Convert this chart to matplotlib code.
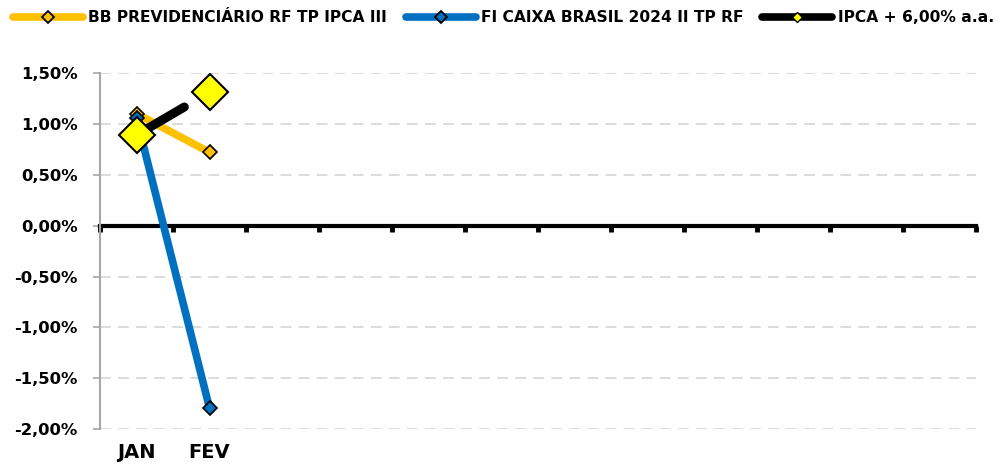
import matplotlib
matplotlib.use("Agg")
import matplotlib.pyplot as plt
from matplotlib.lines import Line2D
from matplotlib.ticker import FuncFormatter, FixedLocator
import matplotlib.transforms as mtrans

plt.rcParams['font.family'] = ['DejaVu Sans']
plt.rcParams['font.weight'] = 'bold'

months = ["JAN", "FEV", "", "", "", "", "", "", "", "", "", ""]
bb_prev = [1.10, 0.72]
caixa_2024 = [1.056, -1.79]
ipca_meta = [0.89, 1.31]

series_names = ["BB PREVIDENCIÁRIO RF TP IPCA III",
                "FI CAIXA BRASIL 2024 II TP RF",
                "IPCA + 6,00% a.a."]

c_orange = "#FFC000"
c_blue = "#0070C0"
c_black = "#000000"
c_yellow = "#FFFF00"

fig = plt.figure(figsize=(9.99, 4.73), dpi=100)
ax = fig.add_axes([100/999, 43.7/473, 876/999, 356.4/473])

n = len(months)
x = list(range(n))
ax.set_xlim(-0.5, n - 0.5)
ax.set_ylim(-2.0, 1.5)

# grid
ax.set_yticks([-2.0, -1.5, -1.0, -0.5, 0.0, 0.5, 1.0, 1.5])
ax.yaxis.grid(True, color="#D9D9D9", lw=1.3, ls=(0, (6, 4)))
ax.set_axisbelow(True)
ax.yaxis.set_major_formatter(FuncFormatter(lambda v, p: f"{v:.2f}%".replace(".", ",")))
ax.tick_params(axis='y', direction='out', length=5, width=1.2, color="#A6A6A6",
               labelsize=11.8, pad=11)
for lab in ax.get_yticklabels():
    lab.set_fontweight('bold')

for s in ['top', 'right']:
    ax.spines[s].set_visible(False)
ax.spines['left'].set_color("#A6A6A6")
ax.spines['left'].set_linewidth(1.5)
ax.spines['bottom'].set_position(('data', 0))
ax.spines['bottom'].set_color("black")
ax.spines['bottom'].set_linewidth(3)
ax.spines['bottom'].set_zorder(1)

ax.xaxis.set_major_locator(FixedLocator([i - 0.5 for i in range(n + 1)]))
ax.set_xticklabels([""] * (n + 1))
ax.tick_params(axis='x', direction='out', length=4, width=3.5, color="black")

trans = mtrans.blended_transform_factory(ax.transData, ax.transAxes)
for i, m in enumerate(months):
    if m:
        ax.text(i, -0.064, m, transform=trans, ha='center', va='center',
                fontsize=14, fontweight='bold')

# series
ax.plot(x[:len(bb_prev)], bb_prev, color=c_orange, lw=5.5, marker='D', ms=7,
        mfc=c_orange, mec='black', mew=1.2, zorder=3, solid_capstyle='butt')
ax.plot(x[:len(caixa_2024)], caixa_2024, color=c_blue, lw=5.5, marker='D', ms=7,
        mfc=c_blue, mec='black', mew=1.2, zorder=4, solid_capstyle='butt')
ax.annotate("", xy=(x[1], ipca_meta[1]), xytext=(x[0], ipca_meta[0]),
            arrowprops=dict(arrowstyle='-', lw=6.5, color=c_black, shrinkA=0,
                            shrinkB=21, capstyle='round'), zorder=5)
ax.plot(x[:len(ipca_meta)], ipca_meta, ls='none', marker='D', ms=18,
        mfc=c_yellow, mec='black', mew=1.5, zorder=6)

handles = [
    Line2D([], [], color=c_orange, lw=5.5, marker='D', ms=6, mfc=c_orange, mec='black', mew=1.3,
           solid_capstyle='round'),
    Line2D([], [], color=c_blue, lw=5.5, marker='D', ms=6, mfc=c_blue, mec='black', mew=1.3,
           solid_capstyle='round'),
    Line2D([], [], color=c_black, lw=5.5, marker='D', ms=5, mfc=c_yellow, mec='black', mew=1.0,
           solid_capstyle='round'),
]
leg = fig.legend(handles, series_names, loc='center', bbox_to_anchor=(0.504, 0.962),
                 ncol=3, frameon=False, handlelength=4.5,
                 handletextpad=0.35, columnspacing=1.2, prop={'weight': 'bold', 'size': 11.2})

fig.savefig("out.png", dpi=100)
